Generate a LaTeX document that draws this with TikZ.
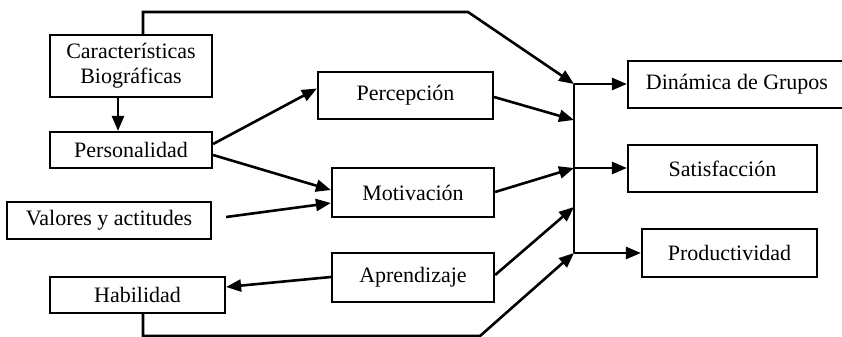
\documentclass[tikz,border=0pt]{standalone}
\usepackage{fontspec}
\setmainfont{Liberation Serif}
\usetikzlibrary{arrows.meta,positioning}
\tikzset{
	cbox/.style={draw=black, line width=1.1pt, fill=white, align=center,
		inner sep=0pt, font=\fontsize{11}{12.5}\selectfont},
	carr/.style={-{Triangle[length=7.5pt,width=6pt]}, line width=1.3pt},
	cline/.style={line width=1.3pt},
}

\begin{document}
\begin{tikzpicture}[x=0.5pt,y=-0.5pt]
	\useasboundingbox (0,0) rectangle (842,337);
	% boxes on the left
	\node[cbox,minimum width=81pt,minimum height=31pt] (carac) at (131,66) {Características\\Biográficas};
	\node[cbox,minimum width=81pt,minimum height=18pt] (perso) at (131,150) {Personalidad};
	\node[cbox,minimum width=102pt,minimum height=18.5pt] (valores) at (109,220.5) {Valores y actitudes};
	\node[cbox,minimum width=87.5pt,minimum height=18pt] (habil) at (137.5,295) {Habilidad};
	% boxes in the middle
	\node[cbox,minimum width=87.5pt,minimum height=23.5pt] (percep) at (405.5,95.5) {Percepción};
	\node[cbox,minimum width=81pt,minimum height=24.5pt] (motiv) at (413,192.5) {Motivación};
	\node[cbox,minimum width=81pt,minimum height=24.5pt] (aprend) at (413,277.5) {Aprendizaje};
	% results
	\node[cbox,minimum width=109pt,minimum height=23.5pt] (dinam) at (737,84.5) {Dinámica de Grupos};
	\node[cbox,minimum width=94.5pt,minimum height=23.5pt] (satis) at (722.5,168.5) {Satisfacción};
	\node[cbox,minimum width=87.5pt,minimum height=24pt] (produc) at (729.5,253) {Productividad};
	% junction bar
	\coordinate (jtop) at (574,84);
	\coordinate (jp) at (574,120);
	\coordinate (jsat) at (574,168);
	\coordinate (ja) at (574,207);
	\coordinate (jbot) at (574,253);
	\coordinate (ktop) at (468,12);
	\coordinate (kbot) at (480,336);
	\draw[cline] (jtop) -- (jbot);
	\draw[carr] (jtop) -- (dinam.west |- jtop);
	\draw[carr] (jsat) -- (satis.west |- jsat);
	\draw[carr] (jbot) -- (produc.west |- jbot);
	% arrows
	\draw[carr] ([xshift=-6.5pt]carac.south) -- ([xshift=-6.5pt]perso.north);
	\draw[carr] ([xshift=6pt]carac.north) |- (ktop) -- (jtop);
	\draw[carr] ([yshift=3pt]perso.east) -- ([yshift=3.5pt]percep.west);
	\draw[carr] ([yshift=-2.5pt]perso.east) -- ([yshift=1.25pt]motiv.west);
	\draw[carr] ([xshift=7pt,yshift=1.75pt]valores.east) -- ([yshift=-5.25pt]motiv.west);
	\draw[carr] ([yshift=-0.75pt]percep.east) -- (jp);
	\draw[carr] ([yshift=0.25pt]motiv.east) -- (jsat);
	\draw[carr] ([yshift=1.25pt]aprend.east) -- (ja);
	\draw[carr] ([yshift=0.25pt]aprend.west) -- ([yshift=4pt]habil.east);
	\draw[carr] ([xshift=2.75pt]habil.south) |- (kbot) -- (jbot);
\end{tikzpicture}
\end{document}
